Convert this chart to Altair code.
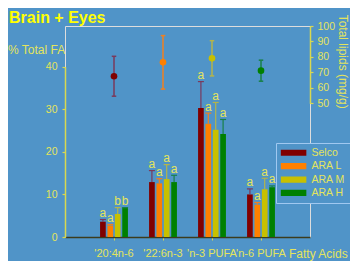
import altair as alt
import pandas as pd

# ---------------- data ----------------
categories = ["'20:4n-6", "'22:6n-3", "'n-3 PUFA", "'n-6 PUFA"]
series = ["Selco", "ARA L", "ARA M", "ARA H"]

selco = [3.6, 12.9, 30.3, 10.0]
selco_err = [0.5, 2.7, 6.2, 1.3]
selco_sig = ["a", "a", "a", "a"]

ara_l = [2.7, 12.6, 26.6, 7.6]
ara_l_err = [0.25, 1.1, 2.5, 0.5]
ara_l_sig = ["a", "a", "a", "a"]

ara_m = [5.4, 13.6, 25.2, 11.2]
ara_m_err = [1.5, 3.4, 6.4, 2.6]
ara_m_sig = ["b", "a", "a", "a"]

ara_h = [6.8, 12.9, 24.2, 11.7]
ara_h_err = [0.1, 1.6, 3.4, 0.3]
ara_h_sig = ["b", "a", "a", "a"]

# total lipids (mg/g), one point per treatment, placed over a category slot
lipid_pos = ["'20:4n-6", "'22:6n-3", "'n-3 PUFA", "'n-6 PUFA"]
lipid_mean = [67.5, 76.5, 79.1, 71.1]
lipid_err = [12.9, 17.3, 11.4, 6.8]

bar_colors = ["#800000", "#ff8000", "#c8c000", "#008000"]
err_colors = ["#7a3a5c", "#f08020", "#b4b44a", "#188048"]

# ---------------- tables ----------------
means = [selco, ara_l, ara_m, ara_h]
errs = [selco_err, ara_l_err, ara_m_err, ara_h_err]
sigs = [selco_sig, ara_l_sig, ara_m_sig, ara_h_sig]
rows = []
for s, mv, ev, sv in zip(series, means, errs, sigs):
    for c, m, e, g in zip(categories, mv, ev, sv):
        rows.append({"cat": c, "series": s, "mean": m, "top": m + e, "sig": g})
bars_df = pd.DataFrame(rows)

lip_df = pd.DataFrame({
    "cat": lipid_pos,
    "series": series,
    "lm": lipid_mean,
    "lo": [m - e for m, e in zip(lipid_mean, lipid_err)],
    "hi": [m + e for m, e in zip(lipid_mean, lipid_err)],
})

# ---------------- styling ----------------
BG = "#5094c8"
LBL = "#e4e45c"
AXY = "#d8d850"
TITLE = "#ffff00"
F = "Liberation Sans"

W, H = 245, 211

xscale = alt.Scale(domain=categories, paddingInner=0, paddingOuter=0.5)
off_scale = alt.Scale(domain=series, paddingInner=0.23, paddingOuter=0, range=[10.57, 38.43])
yl = alt.Scale(domain=[0, 40], range=[211, 40.7], nice=False, zero=True)
yr = alt.Scale(domain=[50, 100], range=[77.3, 0], nice=False, zero=False)

x_axis = alt.Axis(title=None, labelAngle=0, labelColor=LBL, labelFontSize=11, labelFont=F,
                  tickSize=3, tickColor=AXY, tickWidth=1, domainColor="#3c3c1c", domainWidth=1.5,
                  labelPadding=7, labelOverlap=False, labelBound=False, labelFlush=False, grid=False)
left_axis = alt.Axis(title=None, values=[0, 10, 20, 30, 40], tickSize=3, tickColor=AXY, tickWidth=1.2,
                     domainColor=AXY, domainWidth=1.5, labelColor=LBL, labelFontSize=10.5,
                     labelFont=F, labelPadding=5, grid=False)
right_axis = alt.Axis(orient="right", title=None, values=[50, 60, 70, 80, 90, 100], tickSize=3,
                      tickColor=AXY, tickWidth=1.2, domainColor=AXY, domainWidth=1.5,
                      labelColor=LBL, labelFontSize=10.5, labelFont=F, labelPadding=4, grid=False)

X = alt.X("cat:N", scale=xscale, axis=x_axis, sort=categories)
XO = alt.XOffset("series:N", scale=off_scale, sort=series)
legend = alt.Legend(title=None, orient="none", legendX=211, legendY=117,
                    symbolType="M-1,-0.24H1V0.24H-1Z", symbolSize=660, symbolStrokeWidth=0,
                    symbolOpacity=1, labelColor=LBL, labelFontSize=10.5, labelFont=F,
                    labelOffset=5, rowPadding=2.4, clipHeight=10.5, padding=4.5,
                    strokeColor="#a0c8f0", fillColor=BG)
COLOR = alt.Color("series:N", scale=alt.Scale(domain=series, range=bar_colors), legend=legend)
STROKE = alt.Stroke("series:N", scale=alt.Scale(domain=series, range=err_colors), legend=None)
FILL = alt.Fill("series:N", scale=alt.Scale(domain=series, range=err_colors), legend=None)

base = alt.Chart(bars_df)
bars = base.mark_bar(opacity=1).encode(x=X, xOffset=XO,
                                       y=alt.Y("mean:Q", scale=yl, axis=left_axis), color=COLOR)
err_rules = base.mark_rule(strokeWidth=1.2).encode(
    x=X, xOffset=XO, y=alt.Y("mean:Q", scale=yl, axis=left_axis), y2="top:Q", stroke=STROKE)
err_caps = base.mark_tick(thickness=1.2, size=6, opacity=1).encode(
    x=X, xOffset=XO, y=alt.Y("top:Q", scale=yl, axis=left_axis), fill=FILL)
letters = base.mark_text(dy=-2.5, fontSize=12, font=F, color=LBL, baseline="alphabetic").encode(
    x=X, xOffset=XO, y=alt.Y("top:Q", scale=yl, axis=left_axis), text="sig:N")


def label(txt, x, y, size, color, bold=False, angle=0, align="left"):
    return alt.Chart(pd.DataFrame({"t": [txt]})).mark_text(
        fontSize=size, font=F, color=color, fontWeight="bold" if bold else "normal",
        angle=angle, align=align, baseline="alphabetic").encode(
        x=alt.value(x), y=alt.value(y), text="t:N")


title = label("Brain + Eyes", -56, -3.3, 16, TITLE, bold=True)
ylab = label("% Total FA", -57, 28, 12, LBL)
xlab = label("Fatty Acids", 224, 231.5, 12, LBL)
rlab = label("Total lipids (mg/g)", 274.3, 35.7, 12, LBL, angle=90, align="center")

left = alt.layer(bars, err_rules, err_caps, letters, title, ylab, xlab, rlab)

lbase = alt.Chart(lip_df)
YR = alt.Y("lm:Q", scale=yr, axis=right_axis)
p_rules = lbase.mark_rule(strokeWidth=1.5).encode(
    x=X, y=alt.Y("lo:Q", scale=yr, axis=right_axis), y2="hi:Q", stroke=STROKE)
p_caps_lo = lbase.mark_tick(thickness=1.5, size=4.5, opacity=1).encode(
    x=X, y=alt.Y("lo:Q", scale=yr, axis=right_axis), fill=FILL)
p_caps_hi = lbase.mark_tick(thickness=1.5, size=4.5, opacity=1).encode(
    x=X, y=alt.Y("hi:Q", scale=yr, axis=right_axis), fill=FILL)
points = lbase.mark_circle(size=44, opacity=1).encode(x=X, y=YR, color=COLOR)

right = alt.layer(p_rules, p_caps_lo, p_caps_hi, points)

chart = alt.layer(left, right).resolve_scale(y="independent").properties(
    width=W, height=H,
    autosize=alt.AutoSizeParams(type="none"),
    padding={"left": 57, "top": 18, "right": 40, "bottom": 24},
    background=BG,
).configure_view(stroke=None).configure_legend(strokeWidth=1.5).configure(font=F)

chart.save("out.html", embed_options={"renderer": "svg", "actions": False})
